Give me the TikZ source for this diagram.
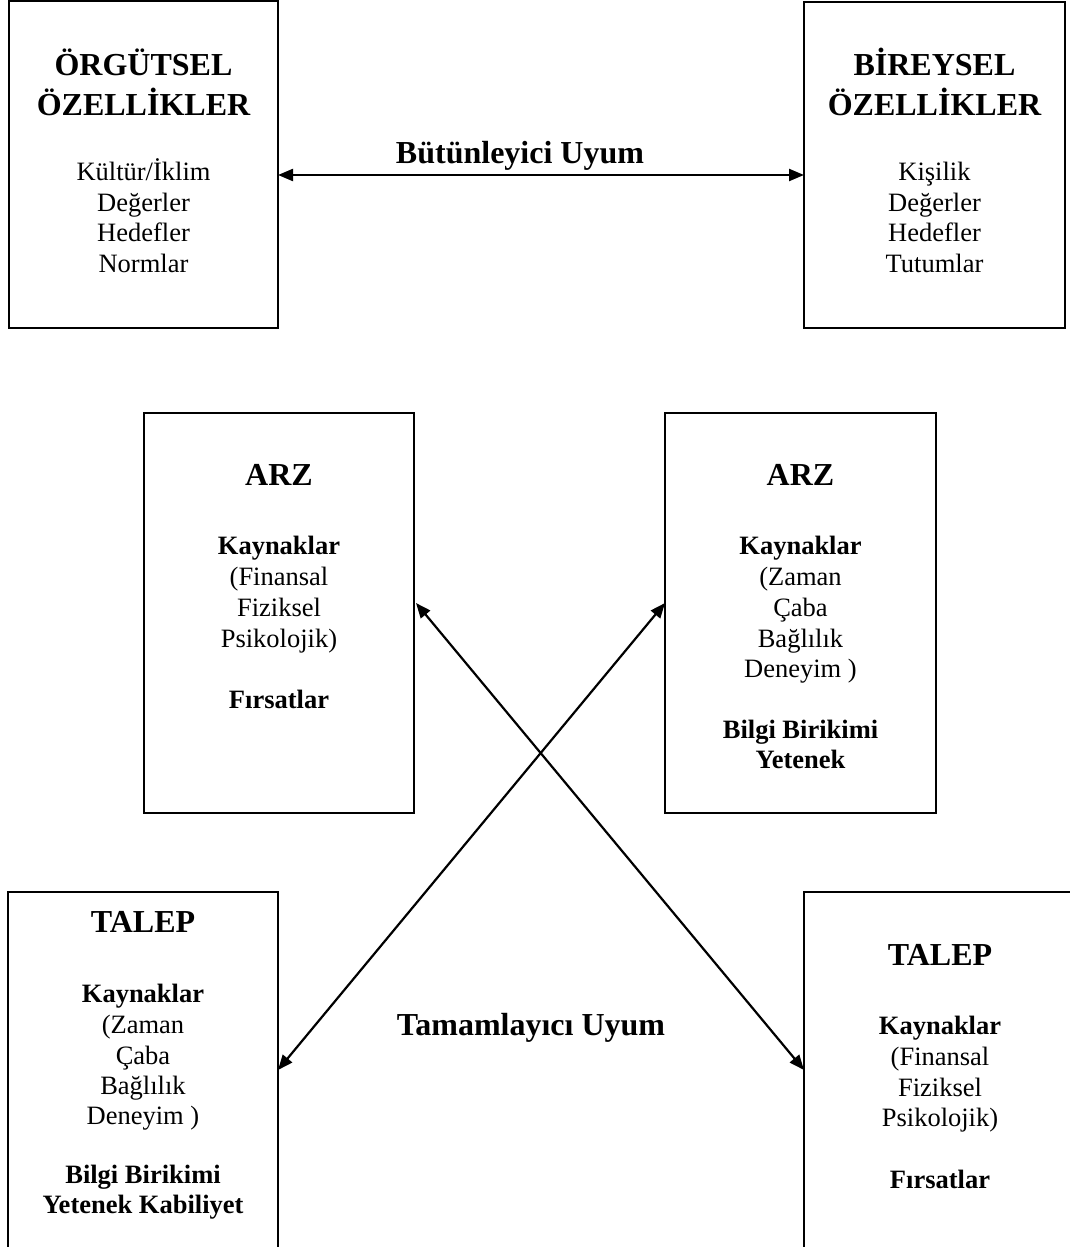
\documentclass[tikz,border=0pt]{standalone}
\usepackage{fontspec}
\setmainfont{Liberation Serif}
\usetikzlibrary{arrows.meta}

\begin{document}
\begin{tikzpicture}[x=1pt, y=-1pt,
  box/.style={draw, line width=2.2pt, rectangle, inner sep=0pt, outer sep=0pt},
  head/.style={anchor=base, inner sep=0pt, font=\fontsize{32}{38}\selectfont\bfseries},
  body/.style={anchor=base, inner sep=0pt, font=\fontsize{26.5}{31}\selectfont},
  bodyb/.style={anchor=base, inner sep=0pt, font=\fontsize{26.5}{31}\selectfont\bfseries},
  link/.style={line width=2.2pt, {Triangle[length=15pt,width=12pt]}-{Triangle[length=15pt,width=12pt]}}]

\clip (0,0) rectangle (1070,1247);

% ---- boxes ----
\node[box, minimum width=269pt, minimum height=327pt] (org) at (143.5,164.5) {};
\node[box, minimum width=261pt, minimum height=326pt] (ind) at (934.5,165) {};
\node[box, minimum width=270pt, minimum height=400pt] (arzL) at (279,613) {};
\node[box, minimum width=271pt, minimum height=400pt] (arzR) at (800.5,613) {};
\node[box, minimum width=270pt, minimum height=373pt] (talL) at (143,1078.5) {};
\node[box, minimum width=272pt, minimum height=373pt] (talR) at (940,1078.5) {};

% ---- organisational characteristics ----
\node[head] (o1) at (143.5,75) {ÖRGÜTSEL};
\node[head] (o2) at (143.5,115) {ÖZELLİKLER};
\node[body] (o3) at (143.5,180) {Kültür/İklim};
\node[body] (o4) at (143.5,211) {Değerler};
\node[body] (o5) at (143.5,241.5) {Hedefler};
\node[body] (o6) at (143.5,272) {Normlar};

% ---- individual characteristics ----
\node[head] (i1) at (934.5,75) {BİREYSEL};
\node[head] (i2) at (934.5,115) {ÖZELLİKLER};
\node[body] (i3) at (934.5,180) {Kişilik};
\node[body] (i4) at (934.5,211) {Değerler};
\node[body] (i5) at (934.5,241.5) {Hedefler};
\node[body] (i6) at (934.5,272) {Tutumlar};

% ---- supply (left) ----
\node[head] (a1) at (279,485) {ARZ};
\node[bodyb] (a2) at (279,554) {Kaynaklar};
\node[body] (a3) at (279,585) {(Finansal};
\node[body] (a4) at (279,616) {Fiziksel};
\node[body] (a5) at (279,647) {Psikolojik)};
\node[bodyb] (a6) at (279,708) {Fırsatlar};

% ---- supply (right) ----
\node[head] (b1) at (800.5,485) {ARZ};
\node[bodyb] (b2) at (800.5,554) {Kaynaklar};
\node[body] (b3) at (800.5,585) {(Zaman};
\node[body] (b4) at (800.5,616) {Çaba};
\node[body] (b5) at (800.5,647) {Bağlılık};
\node[body] (b6) at (800.5,677) {Deneyim )};
\node[bodyb] (b7) at (800.5,738) {Bilgi Birikimi};
\node[bodyb] (b8) at (800.5,768) {Yetenek};

% ---- demand (left) ----
\node[head] (c1) at (143,932) {TALEP};
\node[bodyb] (c2) at (143,1002) {Kaynaklar};
\node[body] (c3) at (143,1033) {(Zaman};
\node[body] (c4) at (143,1064) {Çaba};
\node[body] (c5) at (143,1094) {Bağlılık};
\node[body] (c6) at (143,1124) {Deneyim )};
\node[bodyb] (c7) at (143,1183) {Bilgi Birikimi};
\node[bodyb] (c8) at (143,1213) {Yetenek Kabiliyet};

% ---- demand (right) ----
\node[head] (d1) at (940,965) {TALEP};
\node[bodyb] (d2) at (940,1034) {Kaynaklar};
\node[body] (d3) at (940,1065) {(Finansal};
\node[body] (d4) at (940,1096) {Fiziksel};
\node[body] (d5) at (940,1126) {Psikolojik)};
\node[bodyb] (d6) at (940,1188) {Fırsatlar};

% ---- fit labels ----
\node[head] (fitS) at (520,163) {Bütünleyici Uyum};
\node[head] (fitC) at (531,1035) {Tamamlayıcı Uyum};

% ---- connectors ----
\draw[link] ([yshift=-10.5pt]org.east) -- ([yshift=-10pt]ind.west);
\draw[link] ([xshift=2pt,yshift=10pt]arzL.east) -- ([yshift=8.5pt]talR.west);
\draw[link] ([yshift=10pt]arzR.west) -- ([yshift=8.5pt]talL.east);

\end{tikzpicture}
\end{document}
